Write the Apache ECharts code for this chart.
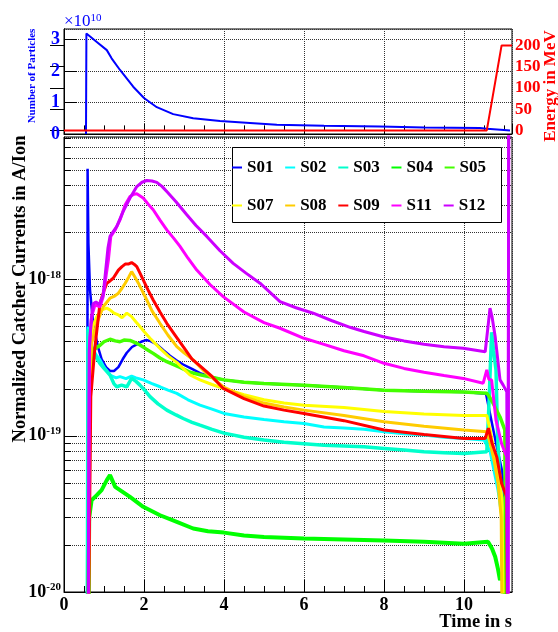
<!DOCTYPE html>
<html><head><meta charset="utf-8">
<script src="https://cdn.jsdelivr.net/npm/echarts@6/dist/echarts.min.js"></script>
<style>html,body{margin:0;padding:0;background:#fff}#c{width:558px;height:632px}</style>
</head><body><div id="c"></div>
<script>
// ---------------- data ----------------
// time in s; currents in units of 1e-20 A/Ion; particles in units of 1e10; energy in MeV
const seriesNames = ['S01','S02','S03','S04','S05','S07','S08','S09','S11','S12'];
const seriesColors = ['#0000ff','#00ffff','#00ffcc','#00ff00','#44ff00','#ffff00','#ffcc00','#ff0000','#ff00ff','#cc00ff'];

const s01 = [[0.58,0.3],[0.59,513],[0.61,171],[0.65,86],[0.72,55],[0.78,45],[0.85,37],[0.94,31],[1.05,27.5],[1.15,26],[1.25,26],[1.36,27.5],[1.47,31],[1.57,34],[1.7,37],[1.82,38.5],[1.93,40],[2.05,41],[2.15,40.5],[2.32,38.5],[2.5,35],[2.65,32.5],[2.8,30.5],[2.98,28.6],[3.2,26.8],[3.4,25.2],[3.7,23.7],[4.0,22.8],[4.5,22],[5.0,21.6],[6.0,21.1],[7.0,20.4],[8.0,19.6],[9.0,19.3],[10.0,19.1],[10.55,18.6],[10.7,12],[10.8,9],[10.95,6],[11.05,3],[11.08,0.3]];
const s02 = [[0.58,0.3],[0.6,50],[0.63,42],[0.7,37],[0.8,33],[0.9,30.6],[1.0,27.5],[1.15,24.5],[1.3,23.5],[1.4,23.9],[1.55,23.2],[1.69,24.1],[1.8,23.5],[1.98,22.8],[2.2,21.6],[2.4,20.6],[2.6,19.6],[2.82,18.7],[3.1,17],[3.4,15.7],[3.7,14.8],[4.0,13.9],[4.5,13.2],[5.0,12.7],[5.5,12.3],[6.0,12.0],[6.5,11.4],[7.0,11.2],[7.5,11.0],[8.0,10.6],[8.5,10.3],[9.0,10.1],[9.5,9.8],[10.0,9.6],[10.5,9.4],[10.65,8],[10.75,6],[10.85,4.5],[10.95,3],[11.0,0.3]];
const s03 = [[0.58,0.3],[0.6,48],[0.63,42],[0.7,36],[0.8,32],[0.9,29],[1.0,27],[1.15,24.5],[1.25,21.5],[1.32,20.6],[1.44,21.1],[1.57,20.6],[1.69,23.3],[1.8,22.3],[1.9,21.1],[2.0,19.8],[2.15,17.8],[2.35,16],[2.57,14.6],[2.8,13.6],[2.98,12.9],[3.2,12.2],[3.4,11.7],[3.7,11.0],[4.0,10.4],[4.5,9.8],[5.0,9.4],[5.5,9.1],[6.0,8.9],[6.5,8.7],[7.0,8.6],[7.5,8.5],[8.0,8.3],[8.5,8.1],[9.0,7.9],[9.5,7.8],[10.0,7.7],[10.57,7.9],[10.62,15],[10.69,46],[10.74,35],[10.8,26.4],[10.84,9.9],[10.9,5.0],[10.97,2.5],[11.0,0.3]];
const s04 = [[0.6,0.3],[0.63,3.0],[0.69,3.87],[0.82,4.17],[0.94,4.49],[1.07,5.2],[1.15,5.6],[1.28,4.71],[1.4,4.49],[1.65,4.06],[1.98,3.51],[2.4,3.1],[2.82,2.81],[3.23,2.55],[3.6,2.45],[4.0,2.4],[4.5,2.3],[5.0,2.25],[6.0,2.2],[7.0,2.17],[8.0,2.14],[9.0,2.1],[10.0,2.04],[10.6,2.1],[10.7,1.9],[10.78,1.68],[10.85,1.4],[10.9,1.19],[10.95,1.3],[11.02,1.45],[11.06,0.3]];
const s05 = [[0.6,0.3],[0.65,25],[0.73,35.4],[0.9,38],[1.0,40],[1.15,41.5],[1.28,40.5],[1.4,40],[1.5,41],[1.65,40.8],[1.78,39.5],[1.9,38.1],[2.05,36],[2.23,33.7],[2.4,31.5],[2.57,29.8],[2.9,27.4],[3.15,25.5],[3.4,24.6],[3.7,23.7],[4.0,22.8],[4.5,22],[5.0,21.6],[6.0,21.1],[7.0,20.4],[8.0,19.6],[9.0,19.3],[10.0,19.1],[10.57,18.7],[10.65,17.5],[10.73,16.1],[10.9,13.2],[11.02,10.9],[11.05,0.3]];
const s07 = [[0.6,0.3],[0.65,39],[0.72,50],[0.82,57.9],[0.94,64],[1.07,65.6],[1.15,64],[1.25,61],[1.36,59.4],[1.45,57],[1.57,61],[1.69,57.9],[1.8,53.5],[1.9,50],[2.0,46.5],[2.15,42.1],[2.4,36.3],[2.6,32.5],[2.82,29.5],[3.15,24.5],[3.4,22.8],[3.7,21.3],[3.98,20.1],[4.5,18.3],[5.0,17],[5.5,16.2],[6.0,15.7],[7.0,15.2],[8.0,14.3],[9.0,13.8],[10.0,13.5],[10.57,13.5],[10.65,11],[10.75,8],[10.85,5.5],[10.95,4],[11.0,0.3]];
const s08 = [[0.6,0.3],[0.65,20],[0.69,39],[0.82,52.5],[0.98,67],[1.15,76],[1.25,78],[1.36,81.8],[1.45,88],[1.53,94.8],[1.62,104],[1.69,112.5],[1.78,103],[1.86,94.8],[2.07,74],[2.2,63],[2.4,52.5],[2.6,44],[2.82,37.2],[3.0,34],[3.23,30.6],[3.5,26],[3.98,20.6],[4.5,17.8],[5.0,16.2],[5.5,15.3],[6.0,14.6],[7.0,13.5],[8.0,12.3],[9.0,11.5],[10.0,10.9],[10.57,10.6],[10.65,9],[10.75,7],[10.85,5],[10.93,3.0],[10.96,0.3]];
const s09 = [[0.6,0.3],[0.67,17.8],[0.775,37.2],[0.9,70.6],[1.0,85],[1.07,94.8],[1.15,98],[1.23,102],[1.36,115],[1.45,121],[1.53,125.6],[1.62,126],[1.69,128.5],[1.76,125],[1.82,121],[1.9,110],[1.98,99.5],[2.1,86],[2.23,74],[2.4,62],[2.57,52.5],[2.78,44],[2.98,37.2],[3.2,31],[3.4,28],[3.7,24],[3.98,20.1],[4.5,17.3],[5.0,15.5],[5.5,14.6],[6.0,13.9],[7.0,12.5],[8.0,10.9],[9.0,10.2],[10.0,9.6],[10.53,9.6],[10.61,11.2],[10.7,9],[10.82,7.3],[10.94,4.95],[11.07,4.06],[11.09,0.3]];
const s11 = [[0.6,0.3],[0.64,40],[0.69,58],[0.775,68.8],[0.9,67],[0.98,77.8],[1.05,105],[1.11,134],[1.17,189],[1.28,208],[1.4,241],[1.53,301],[1.65,340],[1.75,352],[1.82,354],[1.98,333],[2.1,305],[2.23,280],[2.4,240],[2.57,208],[2.75,183],[2.9,163],[3.1,137],[3.32,115],[3.65,93],[3.98,77.8],[4.5,62],[5.0,53],[5.4,48.8],[6.0,42.1],[6.5,38.5],[7.0,35],[7.5,32.5],[8.0,29.1],[8.5,27],[9.0,25.5],[9.5,24.3],[9.98,23.3],[10.48,21.7],[10.57,26.4],[10.62,23],[10.69,22.8],[10.8,12.6],[10.94,8.9],[11.07,7.3],[11.1,0.3],[11.12,5000]];
const s12 = [[0.6,0.3],[0.63,35],[0.68,55],[0.73,70],[0.8,72],[0.88,69],[0.98,80],[1.05,120],[1.1,160],[1.15,189],[1.32,219],[1.48,273],[1.65,333],[1.82,394],[1.95,420],[2.07,431],[2.2,428],[2.32,419],[2.45,395],[2.57,366],[2.8,315],[3.07,260],[3.3,222],[3.57,189],[3.9,153],[4.23,127],[4.55,110],[4.9,94.8],[5.4,72.3],[5.8,66],[6.23,60.9],[6.7,54.5],[7.15,49.5],[7.5,46.5],[7.98,43.1],[8.5,40.5],[9.0,38.5],[9.5,37.2],[9.98,36.3],[10.53,34.5],[10.6,50],[10.65,65.6],[10.7,58],[10.78,43.1],[10.9,22.8],[10.98,21.1],[11.07,19.1],[11.1,0.3],[11.12,5000]];
const currents = [s01,s02,s03,s04,s05,s07,s08,s09,s11,s12];

const particles = [[0.55,0],[0.56,3.19],[0.82,2.92],[1.07,2.66],[1.19,2.40],[1.4,2.03],[1.73,1.50],[2.0,1.14],[2.32,0.85],[2.73,0.63],[3.23,0.50],[3.9,0.41],[4.65,0.35],[5.32,0.29],[6.5,0.26],[7.9,0.24],[9.0,0.21],[10.4,0.19],[10.57,0.17],[11.0,0.13],[11.15,0.11]];
const energy = [[0,0],[10.57,0],[10.94,200],[11.2,200]];

const energyTicks = [0,50,100,150,200];
const minorX = [0.5,1,1.5,2.5,3,3.5,4.5,5,5.5,6.5,7,7.5,8.5,9,9.5,10.5,11];
const minorY = [2,3,4,5,6,7,8,9,20,30,40,50,60,70,80,90,200,300,400,500,600,700,800];

// ---------------- style ----------------
const FONT = "'Liberation Serif','DejaVu Serif',serif";
const T_MAX = 11.2, Y_MIN = 1, Y_MAX = 818, N_MAX = 3.33, E_MIN = -8.5, E_MAX = 238.6;
const dotted = {color:'#333', type:'dotted', width:1};
const blk = {color:'#000', width:1};
const widths = {S01:2.5, S02:3, S03:3.5, S04:4, S05:3.5, S07:3, S08:3, S09:3, S11:3, S12:3};

const chart = echarts.init(document.getElementById('c'), null, {renderer:'canvas'});

const series = [
  {name:'particles', type:'line', xAxisIndex:0, yAxisIndex:0, data:particles, symbol:'none', showSymbol:false,
   lineStyle:{color:'#0000ff', width:2}, itemStyle:{color:'#0000ff'}, clip:true},
  {name:'energy', type:'line', xAxisIndex:0, yAxisIndex:1, data:energy, symbol:'none', showSymbol:false,
   lineStyle:{color:'#ff0000', width:2}, itemStyle:{color:'#ff0000'}, clip:true}
];
seriesNames.forEach((n,i)=>{
  series.push({name:n, type:'line', xAxisIndex:1, yAxisIndex:2, data:currents[i], symbol:'none', showSymbol:false,
    lineStyle:{color:seriesColors[i], width:widths[n]}, itemStyle:{color:seriesColors[i]}, clip:true, z:2});
});

const legendText = {fontFamily:FONT, fontWeight:'bold', fontSize:17, color:'#000'};
const option = {
  animation:false,
  backgroundColor:'#fff',
  grid:[
    {left:64, top:29, right:46, height:105, show:true, borderColor:'#000', borderWidth:1, backgroundColor:'transparent'},
    {left:64, top:137, right:46, height:455, show:true, borderColor:'#000', borderWidth:1, backgroundColor:'transparent'}
  ],
  xAxis:[
    {gridIndex:0, type:'value', min:0, max:T_MAX, interval:2, axisLine:{lineStyle:blk}, axisLabel:{show:false},
     axisTick:{inside:true, length:10, lineStyle:blk}, splitLine:{show:true, lineStyle:dotted}},
    {gridIndex:1, type:'value', min:0, max:T_MAX, interval:2, axisLine:{lineStyle:blk},
     axisLabel:{show:true, showMaxLabel:false, margin:4, fontFamily:FONT, fontWeight:'bold', fontSize:18, color:'#000'},
     axisTick:{inside:true, length:12, lineStyle:blk}, splitLine:{show:true, lineStyle:dotted}},
    {gridIndex:0, type:'value', position:'bottom', min:0, max:T_MAX, axisLine:{show:false}, axisLabel:{show:false}, splitLine:{show:false},
     axisTick:{show:true, inside:true, length:5, customValues:minorX, lineStyle:blk}},
    {gridIndex:1, type:'value', position:'bottom', min:0, max:T_MAX, axisLine:{show:false}, axisLabel:{show:false}, splitLine:{show:false},
     axisTick:{show:true, inside:true, length:6, customValues:minorX, lineStyle:blk}}
  ],
  yAxis:[
    {gridIndex:0, type:'value', position:'left', min:0, max:N_MAX, interval:1, axisLine:{lineStyle:blk},
     axisLabel:{showMaxLabel:false, margin:4, fontFamily:FONT, fontWeight:'bold', fontSize:18, color:'#0000ff'},
     axisTick:{inside:true, length:13, lineStyle:blk}, splitLine:{show:true, lineStyle:dotted}},
    {gridIndex:0, type:'value', position:'right', min:E_MIN, max:E_MAX, axisLine:{show:true, lineStyle:blk},
     axisLabel:{customValues:energyTicks, margin:3, fontFamily:FONT, fontWeight:'bold', fontSize:17, color:'#ff0000'},
     axisTick:{inside:true, length:14, customValues:energyTicks, lineStyle:blk}, splitLine:{show:false}},
    {gridIndex:1, type:'log', logBase:10, position:'left', min:Y_MIN, max:Y_MAX, axisLine:{lineStyle:blk},
     axisLabel:{showMaxLabel:false, margin:3,
       formatter:function(v){const e=Math.round(Math.log10(v))-20; return '{b|10}{s|'+e+'}';},
       rich:{b:{fontFamily:FONT, fontWeight:'bold', fontSize:18, color:'#000', lineHeight:20},
             s:{fontFamily:FONT, fontWeight:'bold', fontSize:11, color:'#000', verticalAlign:'top', lineHeight:12}}},
     axisTick:{inside:true, length:13, lineStyle:blk}, splitLine:{show:true, lineStyle:dotted}},
    {gridIndex:1, type:'value', position:'left', min:0, max:Math.log10(Y_MAX), axisLine:{show:false}, axisLabel:{show:false},
     axisTick:{show:true, inside:true, length:7, customValues:minorY.map(v=>Math.log10(v)), lineStyle:blk},
     splitLine:{show:true, lineStyle:dotted}}
  ],
  legend:[
    {data:['S01','S02','S03','S04','S05'], left:232, top:159, orient:'horizontal', icon:'rect', itemWidth:10, itemHeight:2,
     itemGap:11.7, textStyle:legendText, selectedMode:false, z:6, padding:0},
    {data:['S07','S08','S09','S11','S12'], left:232, top:197, orient:'horizontal', icon:'rect', itemWidth:10, itemHeight:2,
     itemGap:11.7, textStyle:legendText, selectedMode:false, z:6, padding:0}
  ],
  graphic:[
    {type:'rect', z:5, shape:{x:232.5, y:147.5, width:269, height:75}, style:{fill:'#fff', stroke:'#000', lineWidth:1}},
    {type:'text', z:6, x:64, y:22, style:{text:'{a|×10}{s|10}', verticalAlign:'middle',
      rich:{a:{fontFamily:FONT, fontSize:17, fill:'#0000ff', lineHeight:18},
            s:{fontFamily:FONT, fontSize:11, fill:'#0000ff', verticalAlign:'top', lineHeight:11}}}},
    {type:'text', z:6, x:32, y:76, rotation:Math.PI/2, style:{text:'Number of Particles', align:'center', verticalAlign:'middle',
      fontFamily:FONT, fontWeight:'bold', fontSize:11, fill:'#0000ff'}},
    {type:'text', z:6, x:551, y:86, rotation:Math.PI/2, style:{text:'Energy in MeV', align:'center', verticalAlign:'middle',
      fontFamily:FONT, fontWeight:'bold', fontSize:17, fill:'#ff0000'}},
    {type:'text', z:6, x:20, y:289, rotation:Math.PI/2, style:{text:'Normalized Catcher Currents in A/Ion', align:'center', verticalAlign:'middle',
      fontFamily:FONT, fontWeight:'bold', fontSize:18.5, fill:'#000'}},
    {type:'text', z:6, x:512, y:622, style:{text:'Time in s', align:'right', verticalAlign:'middle',
      fontFamily:FONT, fontWeight:'bold', fontSize:18.5, fill:'#000'}}
  ],
  series:series
};
chart.setOption(option);
</script></body></html>
